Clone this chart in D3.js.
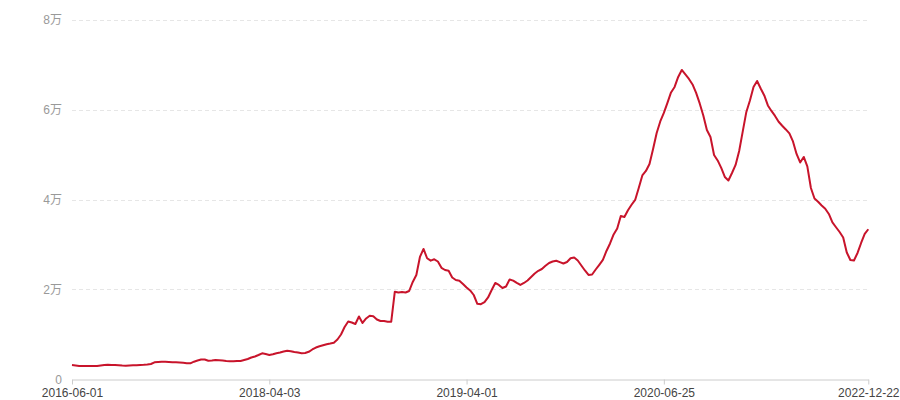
<!DOCTYPE html>
<html>
<head>
<meta charset="utf-8">
<script src="https://cdn.jsdelivr.net/npm/d3@7/dist/d3.min.js"></script>
<style>
  html, body { margin: 0; padding: 0; background: #fff; }
  svg text { font-family: "Liberation Sans", Arial, "Noto Sans CJK SC", sans-serif; }
</style>
</head>
<body>
<svg id="chart" width="900" height="400"></svg>
<script>
// x-axis category labels (shown every 55 points, plus the last one)
const tickLabels = ["2016-06-01", "2018-04-03", "2019-04-01", "2020-06-25", "2022-12-22"];
const tickIndex = [0, 55, 110, 165, 222];
// y-axis ticks
const yTicks = [0, 20000, 40000, 60000, 80000];
// series values (one per data point)
const values = [
  3180, 3070, 2960, 2960, 2960, 2960, 2960, 2960, 3070, 3180,
  3230, 3180, 3180, 3140, 3070, 3030, 3070, 3120, 3140, 3180,
  3230, 3300, 3410, 3790, 3850, 3920, 3900, 3850, 3810, 3790,
  3740, 3670, 3590, 3560, 3920, 4190, 4410, 4410, 4140, 4190,
  4300, 4250, 4190, 4080, 4010, 4030, 4080, 4080, 4300, 4520,
  4850, 5080, 5410, 5790, 5630, 5410, 5570, 5810, 5970, 6190,
  6350, 6240, 6080, 5950, 5810, 5860, 6120, 6640, 7080, 7350,
  7570, 7790, 7950, 8130, 8860, 9980, 11650, 12870, 12650, 12320,
  13990, 12540, 13540, 14140, 14030, 13320, 12980, 12980, 12830, 12830,
  19510, 19330, 19440, 19330, 19660, 21670, 23230, 27240, 29020, 26950,
  26410, 26720, 26230, 24830, 24340, 24160, 22670, 22110, 21960, 21220,
  20440, 19780, 18770, 16810, 16720, 17170, 18220, 19890, 21450, 21000,
  20330, 20670, 22230, 21960, 21450, 21000, 21450, 22000, 22780, 23560,
  24160, 24560, 25280, 25900, 26230, 26390, 26080, 25790, 26120, 26950,
  27120, 26460, 25340, 24230, 23230, 23340, 24450, 25500, 26570, 28570,
  30240, 32250, 33580, 36370, 36140, 37640, 38860, 39930, 42600, 45390,
  46390, 47950, 51290, 54850, 57410, 59310, 61530, 63870, 65100, 67320,
  68880, 67880, 66880, 65650, 63760, 61420, 58750, 55520, 53960, 49950,
  48730, 47060, 45050, 44270, 45940, 47730, 50840, 55190, 59530, 62090,
  65100, 66430, 64760, 63200, 60980, 59750, 58640, 57350, 56450, 55630,
  54740, 52960, 50180, 48280, 49510, 47390, 42600, 40260, 39530, 38710,
  37970, 36810, 34920, 33850, 32800, 31580, 28240, 26570, 26460, 28130,
  30350, 32360, 33410
];

const svg = d3.select("#chart");
const margin = { left: 72, right: 31.7, top: 20, bottom: 20.7 };
const W = 900, H = 400;
const innerW = W - margin.left - margin.right;
const innerH = H - margin.top - margin.bottom;

const x = d3.scaleLinear().domain([0, values.length - 1]).range([margin.left, margin.left + innerW]);
const y = d3.scaleLinear().domain([0, 80000]).range([margin.top + innerH, margin.top]);

// gridlines
svg.append("g")
  .selectAll("line")
  .data(yTicks.filter(d => d > 0))
  .join("line")
  .attr("x1", margin.left).attr("x2", margin.left + innerW)
  .attr("y1", d => Math.round(y(d)) + 0.5).attr("y2", d => Math.round(y(d)) + 0.5)
  .attr("stroke", "#e6e6e6").attr("stroke-width", 1).attr("stroke-dasharray", "4,3");

// y axis labels
const fmt = d => d === 0 ? "0" : (d / 10000) + "万";
const yAxis = d3.axisLeft(y).tickValues(yTicks).tickFormat(fmt).tickSize(0).tickPadding(10);
const gy = svg.append("g").attr("transform", `translate(${margin.left},0)`).call(yAxis);
gy.select(".domain").remove();
gy.selectAll("text").attr("fill", "#999").attr("font-size", 12);

// x axis
const xAxis = d3.axisBottom(x).tickValues(tickIndex)
  .tickFormat((d, i) => tickLabels[i]).tickSize(5).tickSizeOuter(0).tickPadding(4);
const gx = svg.append("g").attr("transform", `translate(0,${Math.round(margin.top + innerH) + 0.5})`).call(xAxis);
gx.select(".domain").attr("stroke", "#ccc");
gx.selectAll(".tick line").attr("stroke", "#ccc");
gx.selectAll("text").attr("fill", "#444").attr("font-size", 12);

// line
const line = d3.line().x((d, i) => x(i)).y(d => y(d));
svg.append("path")
  .datum(values)
  .attr("fill", "none")
  .attr("stroke", "#c8142b")
  .attr("stroke-width", 2)
  .attr("stroke-linejoin", "round")
  .attr("d", line);
</script>
</body>
</html>
